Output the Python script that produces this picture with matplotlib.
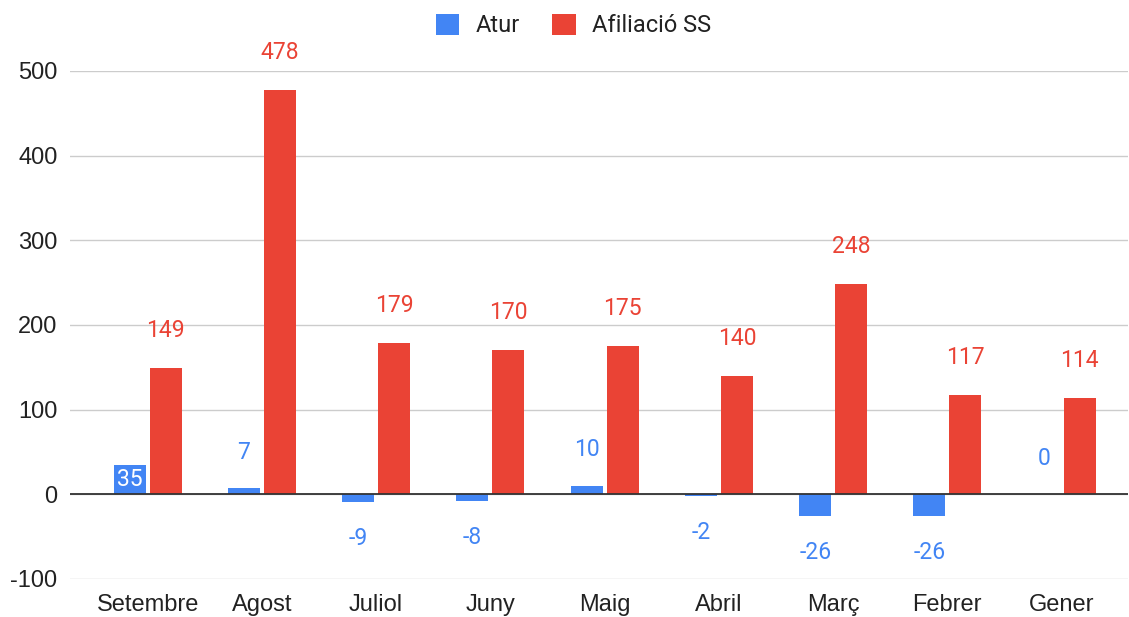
import numpy as np
import matplotlib.pyplot as plt
from matplotlib.patches import Patch

plt.rcParams['font.family'] = ['Roboto', 'DejaVu Sans']
plt.rcParams['axes.unicode_minus'] = False

months = ["Setembre", "Agost", "Juliol", "Juny", "Maig", "Abril", "Març", "Febrer", "Gener"]
atur = [35, 7, -9, -8, 10, -2, -26, -26, 0]
afiliacio = [149, 478, 179, 170, 175, 140, 248, 117, 114]

blue = "#4285F4"
red = "#EA4335"
lbl_size = 16.5

fig = plt.figure(figsize=(11.29, 6.17), dpi=100)
ax = fig.add_axes([0.062, 0.0616, 0.937, 0.8235])

x = np.arange(len(months))
w = 0.28
off = 0.157
ax.bar(x - off, atur, w, color=blue, zorder=3)
ax.bar(x + off, afiliacio, w, color=red, zorder=3)

# data labels
for xi, v in zip(x, atur):
    if v >= 30:
        ax.annotate(str(v), (xi - off, v / 2), ha='center', va='center',
                    color='white', fontsize=lbl_size, zorder=4)
    elif v >= 0:
        ax.annotate(str(v), (xi - off, v), xytext=(0, 26), textcoords='offset points',
                    ha='center', va='center', color=blue, fontsize=lbl_size, zorder=4)
    else:
        ax.annotate(str(v), (xi - off, v), xytext=(0, -26), textcoords='offset points',
                    ha='center', va='center', color=blue, fontsize=lbl_size, zorder=4)
for xi, v in zip(x, afiliacio):
    ax.annotate(str(v), (xi + off, v), xytext=(0, 27), textcoords='offset points',
                ha='center', va='center', color=red, fontsize=lbl_size, zorder=4,
                annotation_clip=False)

ax.set_xlim(-0.68, 8.58)
ax.set_ylim(-100, 500)
ax.set_yticks([-100, 0, 100, 200, 300, 400, 500])
ax.set_xticks(x)
ax.set_xticklabels(months)
ax.tick_params(axis='both', length=0, labelsize=17, colors='#222222')
for t in ax.get_xticklabels() + ax.get_yticklabels():
    t.set_family('Liberation Sans')
ax.tick_params(axis='x', pad=11)
ax.tick_params(axis='y', pad=9)
ax.grid(axis='y', color='#cccccc', linewidth=1, zorder=0)
ax.axhline(0, color='#333333', linewidth=1.3, zorder=4)
for s in ax.spines.values():
    s.set_visible(False)

handles = [Patch(facecolor=blue, label='Atur'), Patch(facecolor=red, label='Afiliació SS')]
fig.legend(handles=handles, loc='upper center', bbox_to_anchor=(0.508, 1.012), ncol=2,
           frameon=False, fontsize=17, handlelength=1.0, handleheight=1.0,
           columnspacing=1.35, handletextpad=0.7, labelcolor='#222222')

fig.savefig("out.png", dpi=100)
